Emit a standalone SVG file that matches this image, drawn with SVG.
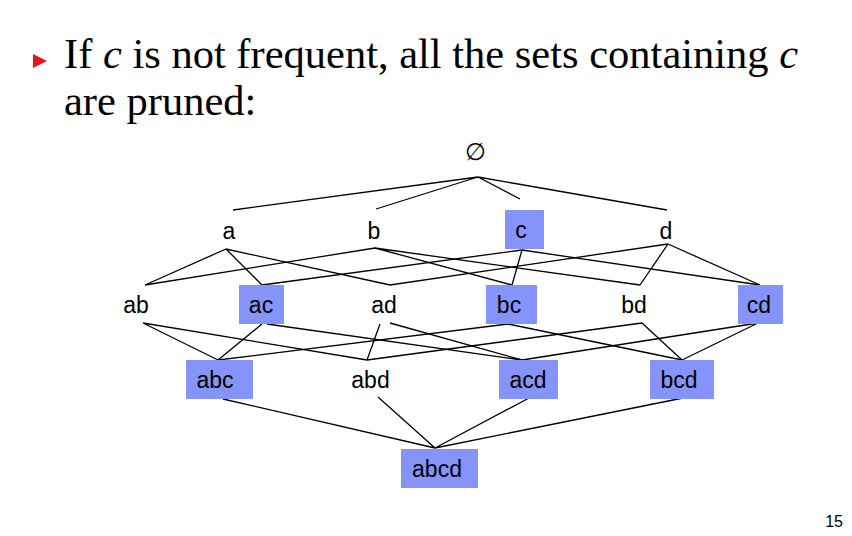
<svg xmlns="http://www.w3.org/2000/svg" width="852" height="536" viewBox="0 0 852 536">
<style>
.title{font-family:"Liberation Serif","Times New Roman",serif;font-size:42.5px;fill:#000}
.lbl{font-family:"Liberation Sans",Arial,sans-serif;font-size:23px;fill:#000;text-anchor:middle}
.box{fill:#8594FA}
.edge{stroke:#000;stroke-width:1.3;fill:none}
.pg{font-family:"Liberation Sans",Arial,sans-serif;font-size:16px;fill:#000;text-anchor:end}
</style>
<rect width="852" height="536" fill="#fff"/>
<g id="title">
<polygon points="33,54 47,61 33,68" fill="#E8141E"/>
<text class="title" x="64" y="68">If <tspan font-style="italic">c</tspan> is not frequent, all the sets containing <tspan font-style="italic">c</tspan></text>
<text class="title" x="64" y="115">are pruned:</text>
</g>
<g id="connectors" class="edge">
<path d="M478,177 L233,210 M478,177 L376,209 M478,177 L520,199 M478,177 L667,210"/>
<path d="M226,249 L145,285 M226,249 L262,285 M226,249 L390,285"/>
<path d="M375,248 L145,285 M375,248 L512,285 M375,248 L640,285"/>
<path d="M522,250 L262,285 M522,250 L512,285 M522,250 L760,285"/>
<path d="M668,244 L390,285 M668,244 L640,285 M668,244 L760,285"/>
<path d="M143,323 L218,360 M143,323 L367,360"/>
<path d="M262,324 L218,360 M267,324 L522,360"/>
<path d="M380,324 L367,360 M390,323 L522,360"/>
<path d="M508,324 L218,360 M508,324 L682,360"/>
<path d="M642,323 L367,360 M642,323 L682,360"/>
<path d="M758,323 L522,360 M758,323 L682,360"/>
<path d="M223,399 L435,448 M378,397 L435,448 M529,398 L435,448 M683,398 L435,448"/>
</g>
<g id="n-empty"><text class="lbl" x="475" y="160" style="font-family:'DejaVu Sans','Liberation Sans',sans-serif;font-size:24px;font-weight:200">∅</text></g>
<g id="n-a"><text class="lbl" x="229" y="239">a</text></g>
<g id="n-b"><text class="lbl" x="374" y="239">b</text></g>
<g id="n-c"><rect class="box" x="505" y="210" width="39" height="39"/><text class="lbl" x="521" y="238">c</text></g>
<g id="n-d"><text class="lbl" x="666" y="239">d</text></g>
<g id="n-ab"><text class="lbl" x="136" y="313">ab</text></g>
<g id="n-ac"><rect class="box" x="239" y="285" width="45" height="39"/><text class="lbl" x="261" y="313">ac</text></g>
<g id="n-ad"><text class="lbl" x="384" y="313">ad</text></g>
<g id="n-bc"><rect class="box" x="486" y="285" width="51" height="39"/><text class="lbl" x="509" y="313">bc</text></g>
<g id="n-bd"><text class="lbl" x="634" y="313">bd</text></g>
<g id="n-cd"><rect class="box" x="738" y="285" width="45" height="39"/><text class="lbl" x="759" y="313">cd</text></g>
<g id="n-abc"><rect class="box" x="186" y="360" width="67" height="39"/><text class="lbl" x="215" y="388">abc</text></g>
<g id="n-abd"><text class="lbl" x="370.5" y="388">abd</text></g>
<g id="n-acd"><rect class="box" x="499" y="360" width="59" height="39"/><text class="lbl" x="528" y="388">acd</text></g>
<g id="n-bcd"><rect class="box" x="650" y="360" width="64" height="39"/><text class="lbl" x="679" y="388">bcd</text></g>
<g id="n-abcd"><rect class="box" x="401" y="449" width="77" height="39"/><text class="lbl" x="437" y="477">abcd</text></g>
<text class="pg" x="843" y="527">15</text>
</svg>
